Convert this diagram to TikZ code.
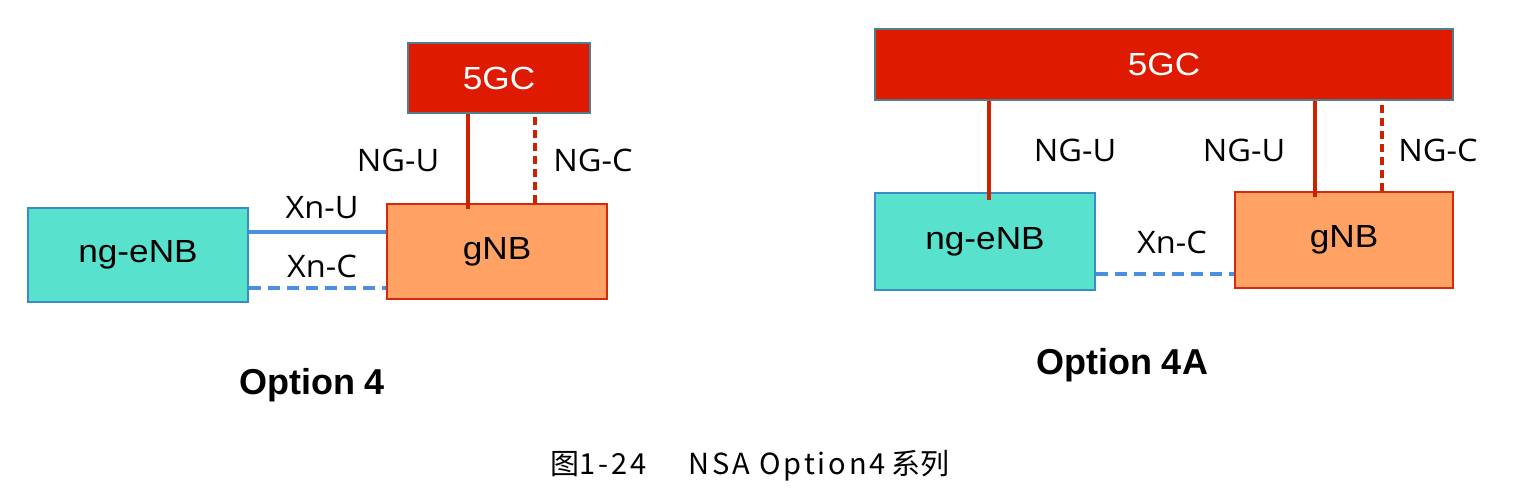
\documentclass[tikz,border=0pt]{standalone}
\usepackage{fontspec}
\setmainfont{Liberation Sans}
\newfontfamily\boxfont[FakeStretch=1.1]{Liberation Sans}
\newfontfamily\lblfont[FakeStretch=1.05]{Open Sans}
\newfontfamily\cjk{Noto Sans CJK SC}
\newfontfamily\caplatin[LetterSpace=10]{Noto Sans CJK SC}
\usetikzlibrary{positioning}
\definecolor{coreRed}{HTML}{DE1A00}
\definecolor{coreEdge}{HTML}{4F7F8F}
\definecolor{enbFill}{HTML}{58E2CE}
\definecolor{enbEdge}{HTML}{3A8CC4}
\definecolor{gnbFill}{HTML}{FFA264}
\definecolor{gnbEdge}{HTML}{D42A10}
\definecolor{lineRed}{HTML}{CC2200}
\definecolor{lineBlue}{HTML}{4A8FE0}
\tikzstyle{core} = [draw=coreEdge, line width=0.75pt, fill=coreRed, text=white,
    rectangle, inner sep=0pt, font=\boxfont\fontsize{16}{19}\selectfont]
\tikzstyle{enb} = [draw=enbEdge, line width=0.75pt, fill=enbFill,
    rectangle, inner sep=0pt, font=\boxfont\fontsize{16}{19}\selectfont]
\tikzstyle{gnb} = [draw=gnbEdge, line width=0.75pt, fill=gnbFill,
    rectangle, inner sep=0pt, font=\boxfont\fontsize{16}{19}\selectfont]
\tikzstyle{ngline} = [draw=lineRed, line width=2pt]
\tikzstyle{ngdash} = [ngline, dash pattern=on 4pt off 2.5pt]
\tikzstyle{xnline} = [draw=lineBlue, line width=2pt]
\tikzstyle{xndash} = [xnline, dash pattern=on 6pt off 3.5pt]
\tikzstyle{lbl} = [inner sep=0pt, font=\lblfont\fontsize{15.5}{18}\selectfont]
\tikzstyle{title} = [inner sep=0pt, font=\bfseries\fontsize{18}{20}\selectfont]

\begin{document}
\begin{tikzpicture}[x=0.5pt, y=-0.5pt]
    \useasboundingbox (0,0) rectangle (1513,494);
    % Option 4: the blocks
    \node [core, minimum width=91pt, minimum height=35pt] (coreL) at (499,78) {5GC};
    \node [enb, minimum width=110pt, minimum height=47pt] (enbL) at (138,255) {ng-eNB};
    \node [gnb, minimum width=110pt, minimum height=47.5pt] (gnbL) at (497,251.5) {gNB};

    % NG towards the core, Xn between the base stations
    \draw [ngline] ([xshift=-14.5pt,yshift=-3pt]gnbL.north) -- ([xshift=-14.5pt]gnbL.north |- coreL.south);
    \draw [ngdash] ([xshift=19pt]gnbL.north) -- ([xshift=19pt]gnbL.north |- coreL.south);
    \draw [xnline] ([yshift=11.5pt]enbL.east) -- ([yshift=11.5pt]enbL.east -| gnbL.west);
    \draw [xndash] ([yshift=-16.5pt]enbL.east) -- ([yshift=-16.5pt]enbL.east -| gnbL.west);

    \node [lbl] (nguL) at (398,160) {NG-U};
    \node [lbl] (ngcL) at (593,160) {NG-C};
    \node [lbl] (xnuL) at (322,208) {Xn-U};
    \node [lbl] (xncL) at (322,266) {Xn-C};
    \node [title] (optL) at (312,385) {Option 4};

    % Option 4A: the blocks
    \node [core, minimum width=289pt, minimum height=35.5pt] (coreR) at (1164,64.5) {5GC};
    \node [enb, minimum width=110pt, minimum height=48.5pt] (enbR) at (985,241.5) {ng-eNB};
    \node [gnb, minimum width=109pt, minimum height=48pt] (gnbR) at (1344,240) {gNB};

    \draw [ngline] ([xshift=2pt,yshift=-4pt]enbR.north) -- ([xshift=2pt]enbR.north |- coreR.south);
    \draw [ngline] ([xshift=-14.5pt,yshift=-3pt]gnbR.north) -- ([xshift=-14.5pt]gnbR.north |- coreR.south);
    \draw [ngdash] ([xshift=19pt]gnbR.north) -- ([xshift=19pt]gnbR.north |- coreR.south);
    \draw [xndash] ([yshift=-16.25pt]enbR.east) -- ([yshift=-16.25pt]enbR.east -| gnbR.west);

    \node [lbl] (nguR1) at (1075,150) {NG-U};
    \node [lbl] (nguR2) at (1244,150) {NG-U};
    \node [lbl] (ngcR) at (1438,150) {NG-C};
    \node [lbl] (xncR) at (1172,242) {Xn-C};
    \node [title] (optR) at (1122,365) {Option 4A};

    % caption
    \node [inner sep=0pt, font=\fontsize{14.5}{17}\selectfont] (caption) at (750,466)
        {{\cjk 图}{\caplatin 1-24}\hspace{21pt}{\caplatin NSA Option4}\hspace{3pt}{\cjk 系列}};
\end{tikzpicture}
\end{document}
